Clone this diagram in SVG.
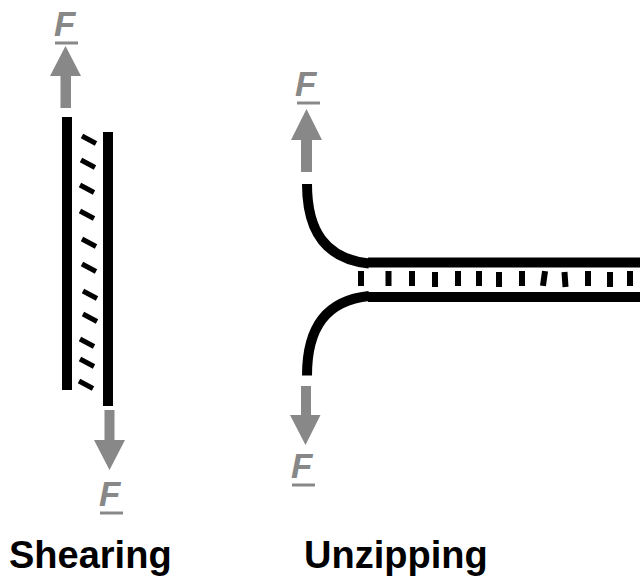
<svg xmlns="http://www.w3.org/2000/svg" width="640" height="576" viewBox="0 0 640 576">
  <style>
    .strand { fill: none; stroke: #000; stroke-width: 10; stroke-linecap: butt; }
    .hash { stroke: #000; stroke-width: 5; stroke-linecap: butt; }
    .rung { fill: #000; }
    .force { fill: #888888; }
    .flabel { font-family: "Liberation Sans", Arial, sans-serif; font-weight: bold; font-style: italic; font-size: 35px; fill: #888888; }
    .fbar { stroke: #888888; stroke-width: 3; }
    .title { font-family: "Liberation Sans", Arial, sans-serif; font-weight: bold; font-size: 38px; fill: #000; }
  </style>
  <rect width="640" height="576" fill="#fff"/>

  <!-- Shearing: two offset strands with slanted base-pair bonds -->
  <g id="shearing">
    <rect x="62" y="117" width="10" height="273" fill="#000"/>
    <rect x="103" y="132" width="10" height="274" fill="#000"/>
    <g id="shear-bonds">
      <line class="hash" x1="82" y1="136" x2="96" y2="143.5"/>
      <line class="hash" x1="81" y1="160" x2="95" y2="167.5"/>
      <line class="hash" x1="80" y1="185" x2="94" y2="192.5"/>
      <line class="hash" x1="80" y1="211" x2="94" y2="218.5"/>
      <line class="hash" x1="82" y1="239" x2="96" y2="246.5"/>
      <line class="hash" x1="82" y1="264" x2="96" y2="271.5"/>
      <line class="hash" x1="83" y1="291" x2="97" y2="298.5"/>
      <line class="hash" x1="83" y1="314" x2="97" y2="321.5"/>
      <line class="hash" x1="80" y1="339" x2="94" y2="346.5"/>
      <line class="hash" x1="80" y1="359" x2="94" y2="366.5"/>
      <line class="hash" x1="79" y1="381" x2="93" y2="388.5"/>
    </g>
  </g>

  <g id="shear-force-top">
    <polygon class="force" points="65.5,46 81,76 71,76 71,108 60.5,108 60.5,76 50,76"/>
    <text class="flabel" x="54" y="36">F</text>
    <line class="fbar" x1="55" y1="43" x2="78" y2="43"/>
  </g>

  <g id="shear-force-bottom">
    <polygon class="force" points="104.5,410 114.5,410 114.5,440 125,440 109.5,470 94,440 104.5,440"/>
    <text class="flabel" x="99" y="506">F</text>
    <line class="fbar" x1="100" y1="513" x2="123" y2="513"/>
  </g>

  <!-- Unzipping: duplex opening into a fork -->
  <g id="unzipping">
    <path class="strand" d="M307,184 C307,232 326,259 369,263.5"/>
    <path class="strand" d="M307,375.5 C307,327.5 326,300.5 369,296"/>
    <line class="strand" x1="368" y1="262.5" x2="640" y2="262.5"/>
    <line class="strand" x1="368" y1="297" x2="640" y2="297"/>
    <g id="zip-bonds">
      <rect class="rung" x="358" y="271" width="6" height="15"/>
      <rect class="rung" x="385.5" y="271" width="6" height="15"/>
      <rect class="rung" x="409" y="271" width="6" height="15"/>
      <rect class="rung" x="432" y="272" width="6" height="15"/>
      <rect class="rung" x="455" y="271" width="6" height="15"/>
      <rect class="rung" x="476" y="271" width="6" height="15"/>
      <rect class="rung" x="496" y="272" width="6" height="15"/>
      <rect class="rung" x="519" y="271" width="6" height="15"/>
      <rect class="rung" x="541" y="271" width="6" height="15" transform="rotate(8 544 278.5)"/>
      <rect class="rung" x="562" y="272" width="6" height="15" transform="rotate(-4 565 279.5)"/>
      <rect class="rung" x="585" y="271" width="6" height="15"/>
      <rect class="rung" x="607" y="272" width="6" height="15"/>
      <rect class="rung" x="627" y="271" width="6" height="15"/>
    </g>
  </g>

  <g id="zip-force-top">
    <polygon class="force" points="306.5,109 322,140 312,140 312,172 301,172 301,140 291,140"/>
    <text class="flabel" x="295" y="96">F</text>
    <line class="fbar" x1="297" y1="103" x2="320" y2="103"/>
  </g>

  <g id="zip-force-bottom">
    <polygon class="force" points="301,386 311,386 311,415 320.5,415 305.5,445 290,415 301,415"/>
    <text class="flabel" x="291" y="478">F</text>
    <line class="fbar" x1="292" y1="485" x2="315" y2="485"/>
  </g>

  <g id="captions">
    <text class="title" x="9" y="568">Shearing</text>
    <text class="title" x="304" y="568">Unzipping</text>
  </g>
</svg>
